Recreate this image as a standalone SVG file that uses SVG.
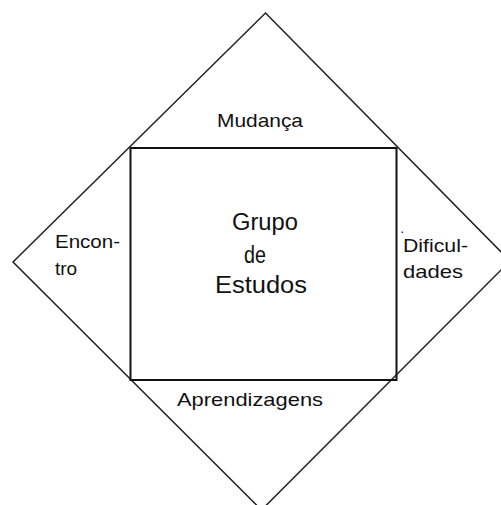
<svg xmlns="http://www.w3.org/2000/svg" width="501" height="505" viewBox="0 0 501 505">
<style>
.edge{fill:none;stroke:#222;stroke-width:1.5}
.box{fill:none;stroke:#111;stroke-width:2}
.lbl{font-family:"Liberation Sans",Arial,sans-serif;font-size:19px;fill:#111}
.big{font-family:"Liberation Sans",Arial,sans-serif;font-size:23px;fill:#111}
</style>
<rect width="501" height="505" fill="#fff"/>
<g id="connectors">
<polygon class="edge" points="265.5,13 510,261 261.5,510 13,262"/>
</g>
<g id="grupo">
<rect class="box" x="130.5" y="148" width="266" height="232"/>
<text class="big" x="232" y="230" textLength="66" lengthAdjust="spacingAndGlyphs">Grupo</text>
<text class="big" x="244" y="263" textLength="22" lengthAdjust="spacingAndGlyphs">de</text>
<text class="big" x="215" y="293" textLength="92" lengthAdjust="spacingAndGlyphs">Estudos</text>
</g>
<g id="mudanca">
<text class="lbl" x="217" y="127" textLength="86" lengthAdjust="spacingAndGlyphs">Mudança</text>
</g>
<g id="encontro">
<text class="lbl" x="55" y="248" textLength="65" lengthAdjust="spacingAndGlyphs">Encon-</text>
<text class="lbl" x="55" y="275">tro</text>
</g>
<g id="dificuldades">
<rect x="401.5" y="231.5" width="1.5" height="1.5" fill="#333"/>
<text class="lbl" x="403" y="252" textLength="65" lengthAdjust="spacingAndGlyphs">Dificul-</text>
<text class="lbl" x="403" y="278" textLength="60" lengthAdjust="spacingAndGlyphs">dades</text>
</g>
<g id="aprendizagens">
<text class="lbl" x="177" y="406" textLength="146" lengthAdjust="spacingAndGlyphs">Aprendizagens</text>
</g>
</svg>
